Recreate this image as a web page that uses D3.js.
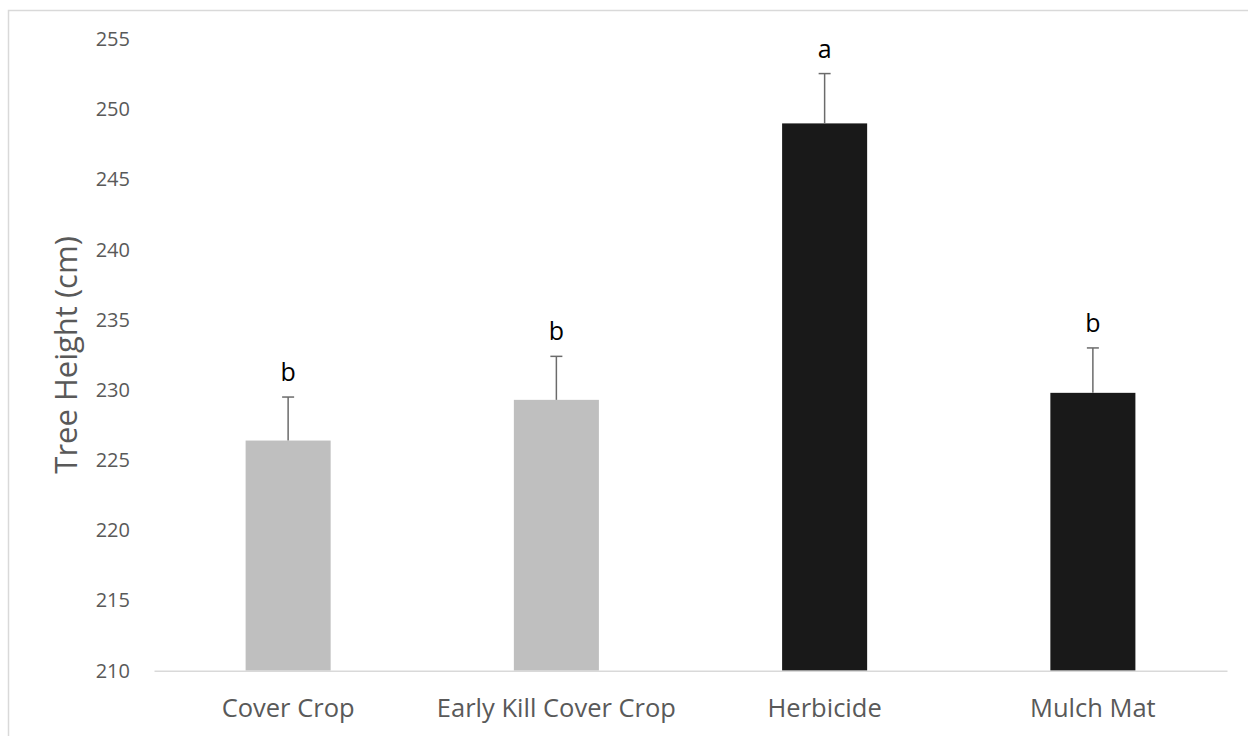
<!DOCTYPE html>
<html>
<head>
    <title></title>
    <meta charset="utf-8">
    <style>
        body { margin: 0; background: #fff; }
        svg text { font-family: 'Open Sans', sans-serif; }
    </style>
</head>
<body>
<script src="https://cdn.jsdelivr.net/npm/d3@7"></script>
<script>
    var categories = ['Cover Crop', 'Early Kill Cover Crop', 'Herbicide', 'Mulch Mat'];
    var heights = [226.4, 229.3, 249.0, 229.8];
    var errors = [3.1, 3.1, 3.55, 3.2];
    var letters = ['b', 'b', 'a', 'b'];
    var barColors = ['#bfbfbf', '#bfbfbf', '#191919', '#191919'];
    var yTicks = [210, 215, 220, 225, 230, 235, 240, 245, 250, 255];

    var W = 1248, H = 736;
    var plot = { left: 154, right: 1227, top: 39.2, bottom: 670.7 };

    var svg = d3.select('body').append('svg')
        .attr('width', W)
        .attr('height', H);

    // chart frame (only top and left edges show in the crop)
    svg.append('rect')
        .attr('x', 8.5).attr('y', 10.5)
        .attr('width', 1400).attr('height', 900)
        .attr('fill', 'none')
        .attr('stroke', '#d9d9d9')
        .attr('stroke-width', 1.5);

    var x = d3.scaleBand()
        .domain(categories)
        .range([plot.left, plot.right])
        .paddingInner(0.683)
        .paddingOuter(0.3415);

    var y = d3.scaleLinear()
        .domain([210, 255])
        .range([plot.bottom, plot.top]);

    // y tick labels, no axis line
    var yAxis = svg.append('g')
        .attr('transform', 'translate(' + plot.left + ',0)')
        .call(d3.axisLeft(y).tickValues(yTicks).tickSize(0).tickPadding(24));
    yAxis.select('.domain').remove();
    yAxis.selectAll('text')
        .attr('fill', '#595959')
        .style('font-size', '20px');

    var bars = svg.selectAll('g.bar').data(categories)
        .enter().append('g')
        .attr('class', 'bar');

    bars.append('rect')
        .attr('x', function (d) { return x(d); })
        .attr('y', function (d, i) { return y(heights[i]); })
        .attr('width', x.bandwidth())
        .attr('height', function (d, i) { return y(210) - y(heights[i]); })
        .attr('fill', function (d, i) { return barColors[i]; });

    // error bars, upper side only
    bars.append('line')
        .attr('x1', function (d) { return x(d) + x.bandwidth() / 2; })
        .attr('x2', function (d) { return x(d) + x.bandwidth() / 2; })
        .attr('y1', function (d, i) { return y(heights[i]); })
        .attr('y2', function (d, i) { return y(heights[i] + errors[i]); })
        .attr('stroke', '#6b6b6b')
        .attr('stroke-width', 1.5);

    bars.append('line')
        .attr('x1', function (d) { return x(d) + x.bandwidth() / 2 - 6; })
        .attr('x2', function (d) { return x(d) + x.bandwidth() / 2 + 6; })
        .attr('y1', function (d, i) { return y(heights[i] + errors[i]); })
        .attr('y2', function (d, i) { return y(heights[i] + errors[i]); })
        .attr('stroke', '#6b6b6b')
        .attr('stroke-width', 1.5);

    bars.append('text')
        .attr('x', function (d) { return x(d) + x.bandwidth() / 2; })
        .attr('y', function (d, i) { return y(heights[i] + errors[i]) - 16; })
        .attr('text-anchor', 'middle')
        .attr('fill', '#000')
        .style('font-size', '25px')
        .text(function (d, i) { return letters[i]; });

    // x axis line + category labels
    var xAxis = svg.append('g')
        .attr('transform', 'translate(0,' + plot.bottom + ')')
        .call(d3.axisBottom(x).tickSize(0));
    xAxis.select('.domain')
        .attr('stroke', '#d9d9d9')
        .attr('stroke-width', 1.5);
    xAxis.selectAll('text')
        .attr('y', 46)
        .attr('dy', null)
        .attr('fill', '#595959')
        .style('font-size', '25.5px');

    svg.append('text')
        .attr('transform', 'translate(77,' + ((plot.top + plot.bottom) / 2) + ') rotate(-90)')
        .attr('text-anchor', 'middle')
        .attr('fill', '#595959')
        .style('font-size', '31px')
        .text('Tree Height (cm)');
</script>
</body>
</html>
